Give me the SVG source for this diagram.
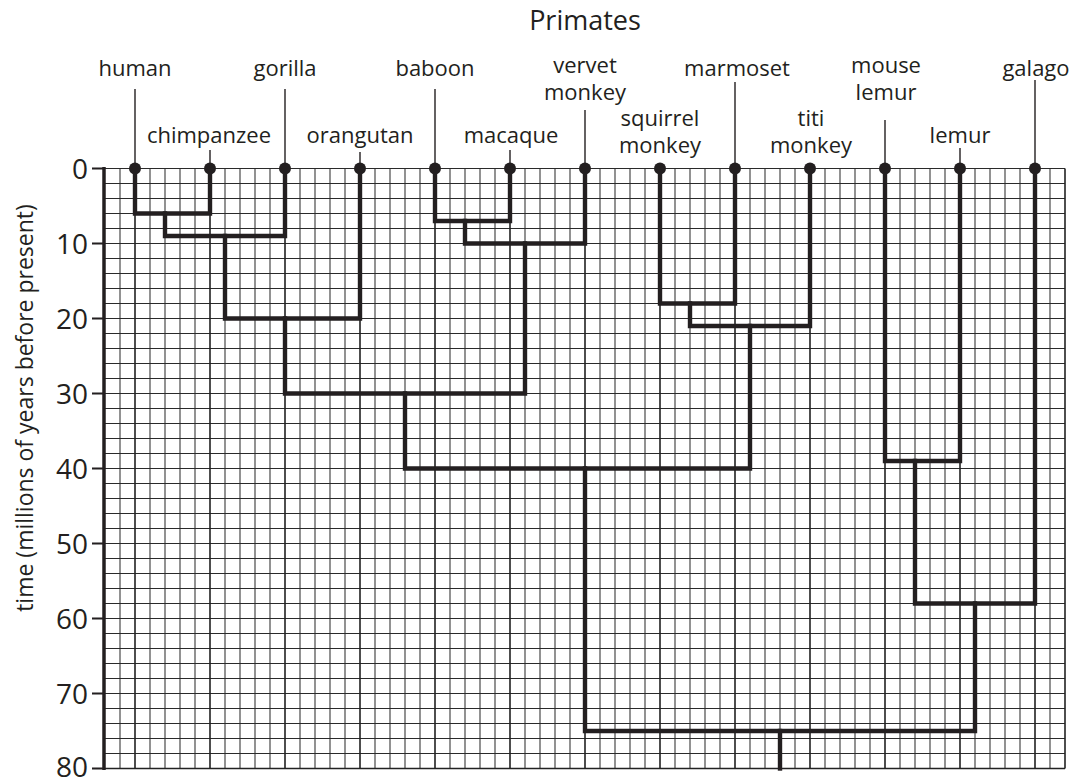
<svg xmlns="http://www.w3.org/2000/svg" width="1076" height="780" viewBox="0 0 1076 780">
<style>
text{font-family:"Open Sans","Liberation Sans",sans-serif;fill:#231f20}
.lbl{font-size:22px;text-anchor:middle}
.num{font-size:28px;text-anchor:end}
.title{font-size:27px;text-anchor:middle}
.minor{stroke:#4a4a4a;stroke-width:1.2;fill:none}
.hgrid{stroke:#2a2a2a;stroke-width:1.2;fill:none}
.major{stroke:#222;stroke-width:1.6;fill:none}
.lead{stroke:#231f20;stroke-width:1.4}
.dot{fill:#231f20}
.tree{stroke:#231f20;stroke-width:4.4;fill:none;stroke-linecap:square;stroke-linejoin:miter}
</style>
<rect width="1076" height="780" fill="#fff"/>
<g id="grid">
<path class="minor" d="M120,168.5V768.5M150,168.5V768.5M165,168.5V768.5M180,168.5V768.5M195,168.5V768.5M225,168.5V768.5M240,168.5V768.5M255,168.5V768.5M270,168.5V768.5M300,168.5V768.5M315,168.5V768.5M330,168.5V768.5M345,168.5V768.5M375,168.5V768.5M390,168.5V768.5M405,168.5V768.5M420,168.5V768.5M450,168.5V768.5M465,168.5V768.5M480,168.5V768.5M495,168.5V768.5M525,168.5V768.5M540,168.5V768.5M555,168.5V768.5M570,168.5V768.5M600,168.5V768.5M615,168.5V768.5M630,168.5V768.5M645,168.5V768.5M675,168.5V768.5M690,168.5V768.5M705,168.5V768.5M720,168.5V768.5M750,168.5V768.5M765,168.5V768.5M780,168.5V768.5M795,168.5V768.5M825,168.5V768.5M840,168.5V768.5M855,168.5V768.5M870,168.5V768.5M900,168.5V768.5M915,168.5V768.5M930,168.5V768.5M945,168.5V768.5M975,168.5V768.5M990,168.5V768.5M1005,168.5V768.5M1020,168.5V768.5M1050,168.5V768.5"/>
<path class="hgrid" d="M105,168.5H1065M105,183.5H1065M105,198.5H1065M105,213.5H1065M105,228.5H1065M105,243.5H1065M105,258.5H1065M105,273.5H1065M105,288.5H1065M105,303.5H1065M105,318.5H1065M105,333.5H1065M105,348.5H1065M105,363.5H1065M105,378.5H1065M105,393.5H1065M105,408.5H1065M105,423.5H1065M105,438.5H1065M105,453.5H1065M105,468.5H1065M105,483.5H1065M105,498.5H1065M105,513.5H1065M105,528.5H1065M105,543.5H1065M105,558.5H1065M105,573.5H1065M105,588.5H1065M105,603.5H1065M105,618.5H1065M105,633.5H1065M105,648.5H1065M105,663.5H1065M105,678.5H1065M105,693.5H1065M105,708.5H1065M105,723.5H1065M105,738.5H1065M105,753.5H1065"/>
<path class="major" d="M135,168.5V768.5M210,168.5V768.5M285,168.5V768.5M360,168.5V768.5M435,168.5V768.5M510,168.5V768.5M585,168.5V768.5M660,168.5V768.5M735,168.5V768.5M810,168.5V768.5M885,168.5V768.5M960,168.5V768.5M1035,168.5V768.5M1065,168.5V768.5M105,768.5H1065"/>
</g>
<g id="axis">
<path d="M104,167V770" stroke="#231f20" stroke-width="3.5" fill="none"/>
<path d="M92,168.5H104M92,243.5H104M92,318.5H104M92,393.5H104M92,468.5H104M92,543.5H104M92,618.5H104M92,693.5H104M92,768.5H104" stroke="#231f20" stroke-width="2" fill="none"/>
<text class="num" x="88" y="178.5">0</text>
<text class="num" x="88" y="253.5">10</text>
<text class="num" x="88" y="328.5">20</text>
<text class="num" x="88" y="403.5">30</text>
<text class="num" x="88" y="478.5">40</text>
<text class="num" x="88" y="553.5">50</text>
<text class="num" x="88" y="628.5">60</text>
<text class="num" x="88" y="703.5">70</text>
<text class="num" x="88" y="777">80</text>
<text class="lbl" style="font-size:23px" transform="translate(33,408) rotate(-90)">time (millions of years before present)</text>
</g>
<text id="title" class="title" x="585" y="30">Primates</text>
<g id="connectors">
<path class="tree" d="M135,168.5V213.5H210V168.5"/>
<path class="tree" d="M165,213.5V236H285V168.5"/>
<path class="tree" d="M225,236V318.5H360V168.5"/>
<path class="tree" d="M285,318.5V393.5H525V243.5"/>
<path class="tree" d="M435,168.5V221H510V168.5"/>
<path class="tree" d="M465,221V243.5H585V168.5"/>
<path class="tree" d="M405,393.5V468.5H750V326"/>
<path class="tree" d="M660,168.5V303.5H735V168.5"/>
<path class="tree" d="M690,303.5V326H810V168.5"/>
<path class="tree" d="M585,468.5V731H975V603.5"/>
<path class="tree" d="M885,168.5V461H960V168.5"/>
<path class="tree" d="M915,461V603.5H1035V168.5"/>
<path class="tree" d="M780,731V768.5"/>
</g>
<g id="human"><text class="lbl" x="135" y="76">human</text><path class="lead" d="M135,89V168"/><circle class="dot" cx="135" cy="168.5" r="6"/></g>
<g id="chimpanzee"><text class="lbl" x="209" y="143">chimpanzee</text><path class="lead" d="M210,150V168"/><circle class="dot" cx="210" cy="168.5" r="6"/></g>
<g id="gorilla"><text class="lbl" x="285" y="76">gorilla</text><path class="lead" d="M285,89V168"/><circle class="dot" cx="285" cy="168.5" r="6"/></g>
<g id="orangutan"><text class="lbl" x="360" y="143">orangutan</text><path class="lead" d="M360,152V168"/><circle class="dot" cx="360" cy="168.5" r="6"/></g>
<g id="baboon"><text class="lbl" x="435" y="76">baboon</text><path class="lead" d="M435,89V168"/><circle class="dot" cx="435" cy="168.5" r="6"/></g>
<g id="macaque"><text class="lbl" x="511" y="143">macaque</text><path class="lead" d="M510,150V168"/><circle class="dot" cx="510" cy="168.5" r="6"/></g>
<g id="vervet-monkey"><text class="lbl" x="585" y="73">vervet</text><text class="lbl" x="585" y="100">monkey</text><path class="lead" d="M585,110V168"/><circle class="dot" cx="585" cy="168.5" r="6"/></g>
<g id="squirrel-monkey"><text class="lbl" x="660" y="126">squirrel</text><text class="lbl" x="660" y="153">monkey</text><circle class="dot" cx="660" cy="168.5" r="6"/></g>
<g id="marmoset"><text class="lbl" x="737" y="76">marmoset</text><path class="lead" d="M735,82V168"/><circle class="dot" cx="735" cy="168.5" r="6"/></g>
<g id="titi-monkey"><text class="lbl" x="811" y="126">titi</text><text class="lbl" x="811" y="153">monkey</text><circle class="dot" cx="810" cy="168.5" r="6"/></g>
<g id="mouse-lemur"><text class="lbl" x="886" y="73">mouse</text><text class="lbl" x="886" y="100">lemur</text><path class="lead" d="M885,120V168"/><circle class="dot" cx="885" cy="168.5" r="6"/></g>
<g id="lemur"><text class="lbl" x="960" y="143">lemur</text><path class="lead" d="M960,148V168"/><circle class="dot" cx="960" cy="168.5" r="6"/></g>
<g id="galago"><text class="lbl" x="1036" y="76">galago</text><path class="lead" d="M1035,80V168"/><circle class="dot" cx="1035" cy="168.5" r="6"/></g>
</svg>
